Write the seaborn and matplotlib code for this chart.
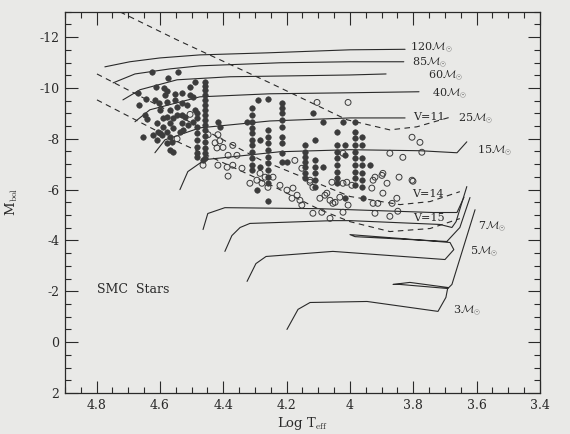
import numpy as np
import pandas as pd
import matplotlib
matplotlib.use("Agg")
import matplotlib.pyplot as plt
from matplotlib.ticker import MultipleLocator
import seaborn as sns

# evolutionary tracks (log Teff, Mbol)
t120_logt = [4.774, 4.695, 4.600, 4.474, 4.262, 4.000, 3.826]
t120_mbol = [-10.83, -11.03, -11.18, -11.30, -11.38, -11.50, -11.52]
t85_logt = [4.748, 4.679, 4.568, 4.474, 4.221, 4.000, 3.830]
t85_mbol = [-10.20, -10.55, -10.75, -10.87, -10.99, -11.03, -11.03]
t60_logt = [4.717, 4.663, 4.546, 4.379, 4.158, 4.000, 3.886]
t60_mbol = [-9.53, -9.93, -10.32, -10.44, -10.48, -10.51, -10.55]
t40_logt = [4.679, 4.632, 4.474, 4.253, 4.000, 3.782]
t40_mbol = [-8.67, -9.14, -9.65, -9.77, -9.81, -9.85]
t25_logt = [4.616, 4.584, 4.474, 4.253, 4.000, 3.826]
t25_mbol = [-7.45, -7.96, -8.43, -8.70, -8.82, -8.82]
t15_logt = [4.537, 4.512, 4.458, 4.221, 4.000, 3.779, 3.662, 3.631]
t15_mbol = [-6.00, -6.71, -7.18, -7.49, -7.57, -7.53, -7.45, -7.88]
t9_logt = [4.464, 4.449, 4.395, 4.095, 3.738, 3.662, 3.640]
t9_mbol = [-4.43, -5.06, -5.29, -5.25, -5.10, -5.10, -5.70]
t7_logt = [4.395, 4.373, 4.347, 4.316, 4.054, 4.000, 3.716, 3.678, 3.665, 3.631]
t7_mbol = [-3.57, -4.19, -4.51, -4.67, -4.78, -4.78, -4.63, -4.51, -4.74, -6.12]
t5_logt = [4.325, 4.297, 4.265, 4.054, 3.700, 3.672, 3.684, 3.842, 4.000, 3.984, 3.694, 3.653, 3.621]
t5_mbol = [-2.39, -3.09, -3.37, -3.57, -3.25, -3.64, -3.92, -4.08, -4.23, -4.15, -3.96, -4.51, -5.69]
t3_logt = [4.199, 4.164, 4.126, 3.946, 3.722, 3.697, 3.691, 3.811, 3.864, 3.842, 3.691, 3.678, 3.605]
t3_mbol = [-0.50, -1.29, -1.56, -1.60, -1.21, -1.76, -2.15, -2.35, -2.27, -2.27, -2.11, -2.27, -5.21]

# constant V magnitude lines
v11_logt = [4.726, 4.546, 4.253, 4.010, 3.874, 3.789, 3.678]
v11_mbol = [-12.99, -11.89, -10.20, -8.75, -8.35, -8.47, -8.87]
v14_logt = [4.799, 4.537, 4.284, 4.000, 3.842, 3.747, 3.653]
v14_mbol = [-10.55, -8.87, -7.18, -5.73, -5.41, -5.53, -5.92]
v15_logt = [4.799, 4.537, 4.284, 4.095, 4.000, 3.874, 3.747, 3.653]
v15_mbol = [-9.53, -7.84, -6.39, -5.21, -4.74, -4.35, -4.47, -4.86]

# filled symbols: hot cluster
cluster_logt = [4.625, 4.543, 4.575, 4.613, 4.587, 4.505, 4.490, 4.670, 4.578, 4.584,
                4.553, 4.531, 4.505, 4.644, 4.666, 4.616, 4.603, 4.578, 4.553, 4.531,
                4.515, 4.647, 4.641, 4.600, 4.568, 4.546, 4.531, 4.578, 4.559, 4.521,
                4.610, 4.591, 4.568, 4.531, 4.606, 4.578, 4.559, 4.537, 4.512, 4.496,
                4.622, 4.594, 4.568, 4.654, 4.610, 4.578, 4.562, 4.568, 4.559, 4.490,
                4.496, 4.527, 4.600, 4.546, 4.591]
cluster_mbol = [-10.61, -10.61, -10.41, -10.02, -9.98, -10.02, -10.22, -9.82, -9.86, -9.71,
                -9.75, -9.82, -9.71, -9.55, -9.31, -9.51, -9.39, -9.43, -9.51, -9.39,
                -9.31, -8.92, -8.77, -9.12, -9.12, -9.24, -8.92, -8.84, -8.80, -8.84,
                -8.61, -8.45, -8.61, -8.61, -8.25, -8.25, -8.41, -8.25, -8.53, -8.65,
                -8.14, -8.14, -8.06, -8.06, -7.94, -7.82, -7.86, -7.55, -7.47, -9.12,
                -9.63, -8.33, -8.21, -8.92, -8.80]

# filled symbols stacked at spectral-type temperatures
column_logt = [4.483, 4.458, 4.310, 4.259, 4.215, 4.142, 4.111, 4.041, 3.984, 3.962]
column_mbol = [
    [-9.00, -8.80, -8.45, -8.21, -7.94, -7.66, -7.43, -7.27],
    [-10.22, -10.06, -9.90, -9.71, -9.51, -9.31, -9.12, -8.92, -8.73, -8.53, -8.33, -8.10,
     -7.86, -7.62, -7.43, -7.23],
    [-9.20, -8.92, -8.65, -8.41, -8.21, -7.94, -7.74, -7.47, -7.23, -6.96, -6.76],
    [-8.33, -8.06, -7.82, -7.55, -7.27, -7.03, -6.76, -6.49, -6.25],
    [-9.39, -9.20, -9.00, -8.73, -8.45, -8.06, -7.82, -7.43, -7.07],
    [-7.74, -7.47, -7.27, -7.07, -6.88, -6.65, -6.45],
    [-7.15, -6.88, -6.65, -6.37, -6.09],
    [-7.74, -7.47, -7.23, -6.96, -6.68, -6.45, -6.25],
    [-8.25, -8.02, -7.74, -7.47, -7.23, -6.96, -6.68, -6.45, -6.17],
    [-8.06, -7.74, -7.23, -6.96, -6.65, -6.37, -6.09],
]

# remaining filled symbols
extra_logt = [4.464, 4.417, 4.411, 4.291, 4.259, 4.325, 4.284, 4.284, 4.199, 4.294,
              4.259, 4.117, 4.085, 4.111, 4.085, 4.041, 4.016, 4.016, 4.022, 3.984,
              3.937, 4.016, 3.959]
extra_mbol = [-7.15, -8.65, -8.45, -9.51, -9.55, -8.65, -7.94, -6.88, -7.07, -5.98,
              -5.55, -9.00, -8.65, -7.94, -6.88, -8.25, -7.74, -7.35, -8.65, -8.65,
              -6.96, -5.66, -5.66]

# open symbols
open_logt = [4.505, 4.546, 4.448, 4.417, 4.426, 4.420, 4.411, 4.370, 4.401, 4.385,
             4.357, 4.464, 4.417, 4.388, 4.370, 4.385, 4.341, 4.316, 4.294, 4.284,
             4.268, 4.243, 4.278, 4.259, 4.221, 4.199, 4.180, 4.167, 4.183, 4.158,
             4.152, 4.174, 4.152, 4.126, 4.117, 4.095, 4.079, 4.073, 4.063, 4.054,
             4.047, 4.032, 4.022, 4.010, 4.104, 4.006, 4.117, 4.089, 4.063, 4.022,
             4.006, 4.022, 3.874, 3.833, 3.773, 3.804, 3.779, 3.896, 3.845, 3.801,
             3.883, 3.921, 3.899, 3.931, 3.896, 3.852, 3.867, 4.126, 4.057, 3.927,
             3.912, 3.874, 3.921, 3.849, 3.994, 3.927, 3.804]
open_mbol = [-8.96, -8.00, -8.16, -8.16, -7.84, -7.64, -7.92, -7.74, -7.66, -7.35,
             -7.35, -6.96, -6.96, -6.88, -6.96, -6.53, -6.84, -6.25, -6.37, -6.64,
             -6.49, -6.49, -6.25, -6.09, -6.17, -5.98, -6.06, -5.78, -5.66, -5.58,
             -5.39, -7.15, -6.84, -6.37, -6.09, -5.66, -5.78, -5.86, -5.58, -5.46,
             -5.50, -5.70, -6.25, -6.29, -9.43, -9.43, -5.07, -5.11, -4.87, -5.11,
             -5.39, -7.43, -7.43, -7.27, -7.47, -8.06, -7.86, -6.64, -6.49, -6.33,
             -6.25, -6.49, -6.56, -6.06, -5.86, -5.66, -5.46, -6.29, -6.29, -5.46,
             -5.46, -4.95, -5.07, -5.15, -6.17, -6.37, -6.37]

xtick_vals = [4.8, 4.6, 4.4, 4.2, 4.0, 3.8, 3.6, 3.4]
xtick_labels = ["4.8", "4.6", "4.4", "4.2", "4", "3.8", "3.6", "3.4"]
ytick_vals = [-12, -10, -8, -6, -4, -2, 0, 2]
ytick_labels = ["-12", "-10", "-8", "-6", "-4", "-2", "0", "2"]

tracks = pd.concat([
    pd.DataFrame({"logt": lt, "mbol": mb, "track": name})
    for name, lt, mb in [("120", t120_logt, t120_mbol), ("85", t85_logt, t85_mbol),
                         ("60", t60_logt, t60_mbol), ("40", t40_logt, t40_mbol),
                         ("25", t25_logt, t25_mbol), ("15", t15_logt, t15_mbol),
                         ("9", t9_logt, t9_mbol), ("7", t7_logt, t7_mbol),
                         ("5", t5_logt, t5_mbol), ("3", t3_logt, t3_mbol)]
])
vlines = pd.concat([
    pd.DataFrame({"logt": lt, "mbol": mb, "track": name})
    for name, lt, mb in [("V11", v11_logt, v11_mbol), ("V14", v14_logt, v14_mbol),
                         ("V15", v15_logt, v15_mbol)]
])

filled = pd.concat([
    pd.DataFrame({"logt": cluster_logt, "mbol": cluster_mbol}),
    pd.DataFrame({"logt": extra_logt, "mbol": extra_mbol}),
    pd.concat([pd.DataFrame({"logt": [lt] * len(mb), "mbol": mb})
               for lt, mb in zip(column_logt, column_mbol)]),
])
hollow = pd.DataFrame({"logt": open_logt, "mbol": open_mbol})

sns.set_style("ticks")
plt.rcParams["font.family"] = ["DejaVu Serif"]
plt.rcParams["mathtext.fontset"] = "cm"
plt.rcParams["axes.unicode_minus"] = False

bg = "#e9e9e7"
ink = "#2a2a2a"
fig = plt.figure(figsize=(5.7, 4.34), dpi=100, facecolor=bg)
ax = fig.add_axes([0.114, 0.0945, 0.8333, 0.8786], facecolor=bg)

sns.lineplot(data=tracks, x="logt", y="mbol", units="track", estimator=None, sort=False,
             color=ink, lw=0.8, ax=ax, legend=False)
sns.lineplot(data=vlines, x="logt", y="mbol", units="track", estimator=None, sort=False,
             color=ink, lw=0.8, linestyle=(0, (5, 4)), ax=ax, legend=False)
sns.scatterplot(data=hollow, x="logt", y="mbol", marker="o", s=18, facecolor="none",
                edgecolor="#3a3a3a", linewidth=0.7, ax=ax, zorder=3)
sns.scatterplot(data=filled, x="logt", y="mbol", marker="o", s=16, color="#3c3c3c",
                edgecolor="#3c3c3c", linewidth=0.4, ax=ax, zorder=4)

ax.set_xlim(4.9, 3.4)
ax.set_ylim(2, -13)
ax.set_xticks(xtick_vals)
ax.set_xticklabels(xtick_labels)
ax.set_yticks(ytick_vals)
ax.set_yticklabels(ytick_labels)
ax.xaxis.set_minor_locator(MultipleLocator(0.05))
ax.yaxis.set_minor_locator(MultipleLocator(0.5))
ax.tick_params(which="both", direction="in", top=True, right=True, colors=ink, width=0.8)
ax.tick_params(which="major", length=9, labelsize=9, pad=4)
ax.tick_params(which="minor", length=4.5)
for sp in ax.spines.values():
    sp.set_color(ink)
    sp.set_linewidth(0.9)

ax.set_xlabel("Log T$_{\\rm eff}$", fontsize=9.5, color=ink)
ax.set_ylabel("M$_{\\rm bol}$", fontsize=9.5, color=ink)
ax.xaxis.set_label_coords(0.5, -0.058)
ax.yaxis.set_label_coords(-0.095, 0.5)

msun = "$\\mathcal{M}_{\\odot}$"
lab = dict(fontsize=8, color=ink, ha="left", va="center")
ax.text(3.811, -11.58, "120" + msun, **lab)
ax.text(3.804, -11.00, "85" + msun, **lab)
ax.text(3.754, -10.47, "60" + msun, **lab)
ax.text(3.741, -9.78, "40" + msun, **lab)
ax.text(3.659, -8.78, "25" + msun, **lab)
ax.text(3.599, -7.51, "15" + msun, **lab)
ax.text(3.596, -4.55, "7" + msun, **lab)
ax.text(3.621, -3.57, "5" + msun, **lab)
ax.text(3.675, -1.25, "3" + msun, **lab)
ax.text(3.801, -8.87, "V=11", **lab)
ax.text(3.804, -5.82, "V=14", **lab)
ax.text(3.801, -4.90, "V=15", **lab)
ax.text(4.799, -2.07, "SMC  Stars", fontsize=9, color=ink, ha="left", va="center")

fig.savefig("out.png", dpi=100, facecolor=bg)
